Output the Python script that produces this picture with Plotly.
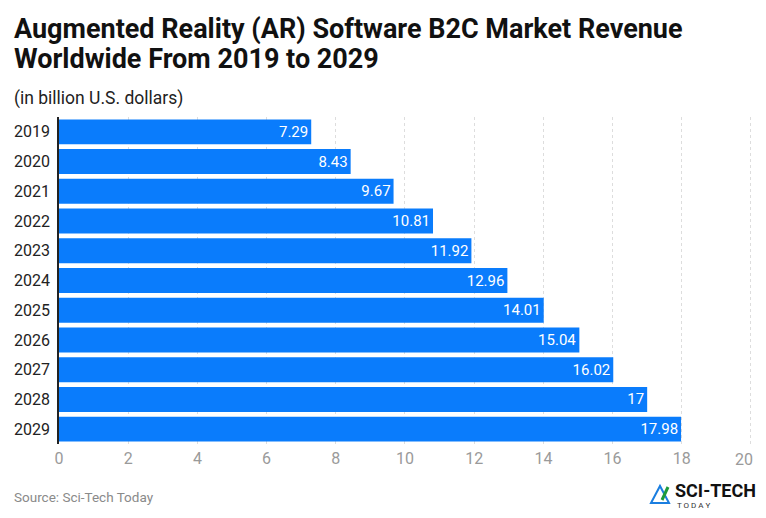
import plotly.graph_objects as go

years = ["2019", "2020", "2021", "2022", "2023", "2024", "2025", "2026", "2027", "2028", "2029"]
revenue = [7.29, 8.43, 9.67, 10.81, 11.92, 12.96, 14.01, 15.04, 16.02, 17, 17.98]
labels = ["7.29", "8.43", "9.67", "10.81", "11.92", "12.96", "14.01", "15.04", "16.02", "17", "17.98"]
x_ticks = [0, 2, 4, 6, 8, 10, 12, 14, 16, 18, 20]

# last tick label is drawn separately (nudged inward, as in the original)
tick_text = [str(t) for t in x_ticks[:-1]] + [""]

fig = go.Figure(go.Bar(
    y=years, x=revenue, orientation="h",
    marker=dict(color="#0a7cfc", line=dict(width=0)),
    text=labels, textposition="inside", insidetextanchor="end",
    textfont=dict(color="white", size=15, family="Roboto"),
    cliponaxis=False,
))

fig.update_layout(
    width=750, height=502,
    margin=dict(l=51, r=6, t=109, b=66),
    paper_bgcolor="white", plot_bgcolor="white",
    bargap=0.16,
    showlegend=False,
    font=dict(family="Roboto", color="#222"),
    xaxis=dict(range=[0, 20.03], tickvals=x_ticks, ticktext=tick_text, showgrid=True,
               gridcolor="#dddddd", griddash="dot", zeroline=False, showline=False,
               ticklabelstandoff=3,
               tickfont=dict(size=16, color="#9a9a9a"), ticks="", fixedrange=True),
    yaxis=dict(autorange="reversed", showgrid=False, showline=True, linecolor="#222",
               linewidth=1.5, tickfont=dict(size=16, color="#222"), ticks="",
               ticklabelstandoff=4),
)


def pt(px, py):
    # convert reference pixel coords to paper coords
    return (px - 59) / 693, (444 - py) / 327

fig.add_annotation(x=x_ticks[-1], xref="x", y=pt(0, 459)[1], yref="paper",
                   xanchor="center", yanchor="middle", xshift=-7,
                   text=str(x_ticks[-1]), showarrow=False,
                   font=dict(size=16, color="#9a9a9a", family="Roboto"))

ax, ay = pt(12, 29)
fig.add_annotation(x=ax, y=ay, xref="paper", yref="paper", xanchor="left", yanchor="middle",
                   text="<b>Augmented Reality (AR) Software B2C Market Revenue</b>",
                   showarrow=False, font=dict(size=27, color="#111", family="Roboto"))
ax, ay = pt(12, 59)
fig.add_annotation(x=ax, y=ay, xref="paper", yref="paper", xanchor="left", yanchor="middle",
                   text="<b>Worldwide From 2019 to 2029</b>",
                   showarrow=False, font=dict(size=27, color="#111", family="Roboto"))
ax, ay = pt(12, 98)
fig.add_annotation(x=ax, y=ay, xref="paper", yref="paper", xanchor="left", yanchor="middle",
                   text="(in billion U.S. dollars)",
                   showarrow=False, font=dict(size=17.5, color="#222", family="Roboto"))
ax, ay = pt(12, 497)
fig.add_annotation(x=ax, y=ay, xref="paper", yref="paper", xanchor="left", yanchor="middle",
                   text="Source: Sci-Tech Today",
                   showarrow=False, font=dict(size=13.5, color="#8a8a8a", family="Roboto"))
ax, ay = pt(673, 490)
fig.add_annotation(x=ax, y=ay, xref="paper", yref="paper", xanchor="left", yanchor="middle",
                   text="<b>SCI-TECH</b>",
                   showarrow=False, font=dict(size=18, color="#111", family="Roboto"))
ax, ay = pt(675, 505)
fig.add_annotation(x=ax, y=ay, xref="paper", yref="paper", xanchor="left", yanchor="middle",
                   text="T O D A Y",
                   showarrow=False, font=dict(size=8, color="#333", family="Roboto"))
# logo triangle
fig.add_shape(type="path", xref="paper", yref="paper",
              path="M {0},{1} L {2},{3} L {4},{5} Z".format(*pt(651, 503), *pt(660, 486), *pt(669, 503)),
              line=dict(color="#1a7ee0", width=2), fillcolor="rgba(0,0,0,0)")
fig.add_shape(type="line", xref="paper", yref="paper",
              x0=pt(662, 500)[0], y0=pt(662, 500)[1], x1=pt(668, 487)[0], y1=pt(668, 487)[1],
              line=dict(color="#1e9a3a", width=3))

fig.write_html("out.html")
